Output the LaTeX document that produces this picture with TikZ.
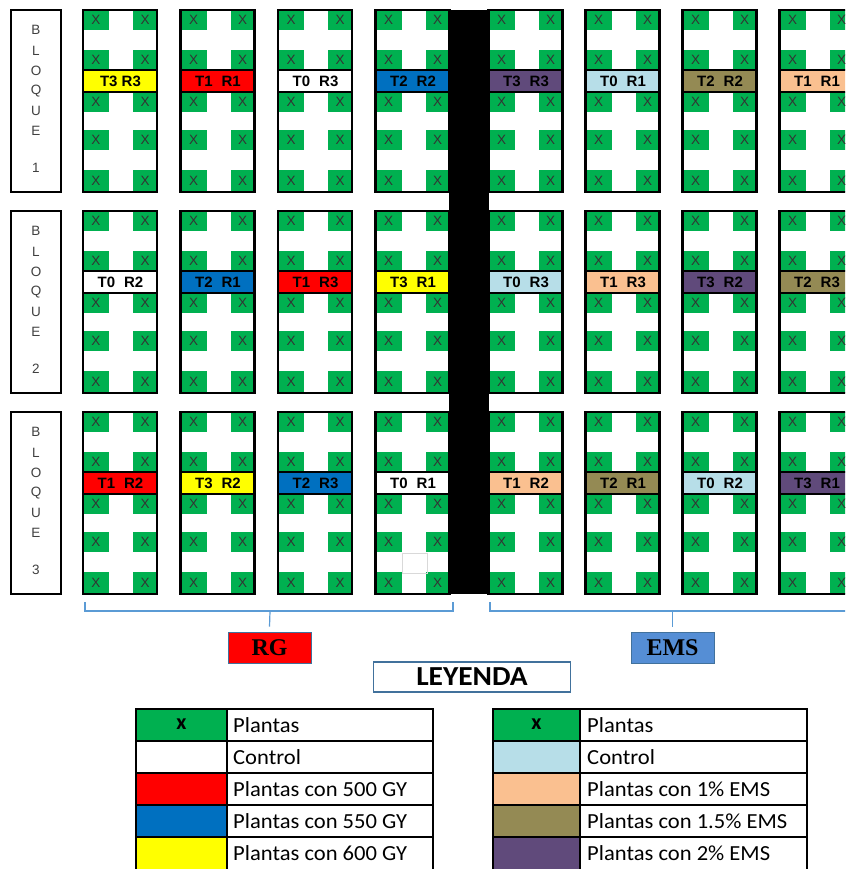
\documentclass[tikz,border=0pt]{standalone}
\usepackage{fontspec}
\setmainfont{Liberation Sans}
\newfontfamily\calib{Carlito}
\newfontfamily\serifb{Liberation Serif}
\definecolor{gr}{HTML}{00B050}
\definecolor{rd}{HTML}{FF0000}
\definecolor{bl}{HTML}{0070C0}
\definecolor{ye}{HTML}{FFFF00}
\definecolor{lb}{HTML}{B7DEE8}
\definecolor{pe}{HTML}{FAC090}
\definecolor{ol}{HTML}{948A54}
\definecolor{pu}{HTML}{604A7B}
\definecolor{brk}{HTML}{5B9BD5}
\definecolor{bd}{HTML}{41719C}
\definecolor{emsc}{HTML}{558ED5}
\tikzset{
  xmark/.style={inner sep=0pt, text=black!80, font=\fontsize{13.5}{14}\selectfont},
  lab/.style={inner sep=0pt, font=\bfseries\fontsize{15}{16}\selectfont},
  blq/.style={inner sep=0pt, text=black!75, font=\fontsize{13.5}{14}\selectfont},
  frame/.style={draw=black, line width=2.5pt},
  brace/.style={draw=brk, line width=1.2pt},
  legtxt/.style={inner sep=0pt, anchor=west, xscale=1.05, font=\calib\fontsize{21.5}{23}\selectfont},
  grp/.style={draw=bd, line width=0.8pt, minimum width=83pt, minimum height=31pt, inner sep=0pt,
      font=\serifb\bfseries\fontsize{24}{26}\selectfont},
}
\newcommand\plotcell[5]{%
\begin{scope}[shift={(#1,#2)}]
  \foreach \yy/\hh [count=\k] in {0/20,40/20,82/20,120/20,160/22} {
    \fill[gr] (0,\yy) rectangle (26,\yy+\hh);
    \fill[gr] (50,\yy) rectangle (74,\yy+\hh);
    \node[xmark] (#5-l\k) at (13,\yy+\hh/2) {X};
    \node[xmark] (#5-r\k) at (62,\yy+\hh/2) {X};
  }
  \fill[#3] (0,60) rectangle (74,82);
  \draw[line width=2pt] (0,60) -- (74,60) (0,82) -- (74,82);
  \node[lab] (#5) at (37.5,71.5) {#4};
  \draw[frame] (0,0) rectangle (74,182);
\end{scope}}
\newcommand\lb[2]{#1\hspace{9pt}#2}
\newcommand\bloque[3]{%
  \draw[frame] (11,#1) rectangle (61,#1+182);
  \foreach \c/\o [count=\k] in {B/20,L/41,O/61,Q/81,U/101,E/121,#2/158}
    \node[blq] (#3-\k) at (36,#1+\o) {\c};}
\begin{document}
\begin{tikzpicture}[x=1pt,y=-1pt]
\clip (0,0) rectangle (845,869);
\fill[white] (0,0) rectangle (845,869);
% central black bar
\fill[black] (449,10) rectangle (488.5,594);
% bloque boxes
\bloque{10}{1}{bq1}
\bloque{211}{2}{bq2}
\bloque{412}{3}{bq3}
% block 1
\plotcell{83}{10}{ye}{T3 R3}{a1}
\plotcell{180.5}{10}{rd}{\lb{T1}{R1}}{a2}
\plotcell{278}{10}{white}{\lb{T0}{R3}}{a3}
\plotcell{375.5}{10}{bl}{\lb{T2}{R2}}{a4}
\plotcell{488.5}{10}{pu}{\lb{T3}{R3}}{a5}
\plotcell{585.5}{10}{lb}{\lb{T0}{R1}}{a6}
\plotcell{682.5}{10}{ol}{\lb{T2}{R2}}{a7}
\plotcell{779.5}{10}{pe}{\lb{T1}{R1}}{a8}
% block 2
\plotcell{83}{211}{white}{\lb{T0}{R2}}{b1}
\plotcell{180.5}{211}{bl}{\lb{T2}{R1}}{b2}
\plotcell{278}{211}{rd}{\lb{T1}{R3}}{b3}
\plotcell{375.5}{211}{ye}{\lb{T3}{R1}}{b4}
\plotcell{488.5}{211}{lb}{\lb{T0}{R3}}{b5}
\plotcell{585.5}{211}{pe}{\lb{T1}{R3}}{b6}
\plotcell{682.5}{211}{pu}{\lb{T3}{R2}}{b7}
\plotcell{779.5}{211}{ol}{\lb{T2}{R3}}{b8}
% block 3
\plotcell{83}{412}{rd}{\lb{T1}{R2}}{c1}
\plotcell{180.5}{412}{ye}{\lb{T3}{R2}}{c2}
\plotcell{278}{412}{bl}{\lb{T2}{R3}}{c3}
\plotcell{375.5}{412}{white}{\lb{T0}{R1}}{c4}
\plotcell{488.5}{412}{pe}{\lb{T1}{R2}}{c5}
\plotcell{585.5}{412}{ol}{\lb{T2}{R1}}{c6}
\plotcell{682.5}{412}{lb}{\lb{T0}{R2}}{c7}
\plotcell{779.5}{412}{pu}{\lb{T3}{R1}}{c8}
% faint grid in c4
\draw[black!15, line width=0.8pt] (402,553) rectangle (427,573);
% braces and group labels
\node[grp, fill=rd] (rg) at (269.5,647.5) {RG};
\node[grp, fill=emsc] (ems) at (672.5,647.5) {EMS};
\coordinate (rgL) at (85,602); \coordinate (rgR) at (453,602);
\coordinate (emL) at (490,602); \coordinate (emR) at (860,602);
\draw[brace] (rgL) -- (85,611) -- (453,611) -- (rgR);
\draw[brace] (270,611) -- ([yshift=5pt]rg.north);
\draw[brace] (emL) -- (490,611) -- (emR |- 0,611);
\draw[brace] (ems.north |- 0,611) -- ([yshift=5pt]ems.north);
\node[draw=bd, fill=white, line width=1.6pt, minimum width=197pt, minimum height=30pt, inner sep=0pt] (ley) at (472,677) {};
\node[inner sep=0pt, xscale=1.07, font=\calib\bfseries\fontsize{27.5}{28}\selectfont] (leyt) at (ley.center) {LEYENDA};
% legend left
\fill[gr] (136,709) rectangle (227,741);
\fill[rd] (136,773) rectangle (227,805);
\fill[bl] (136,805) rectangle (227,837);
\fill[ye] (136,837) rectangle (227,871);
\draw[line width=2.5pt] (136,709) rectangle (433,873);
\foreach \yy in {741,773,805,837} \draw[line width=2.5pt] (136,\yy) -- (433,\yy);
\draw[line width=2.5pt] (227,709) -- (227,873);
\node[inner sep=0pt, font=\calib\bfseries\fontsize{22}{22}\selectfont] (lx1) at (181.5,724) {x};
\node[legtxt] (lt1) at (233,725.5) {Plantas};
\node[legtxt] (lt2) at (233,757.5) {Control};
\node[legtxt] (lt3) at (233,789.5) {Plantas con 500 GY};
\node[legtxt] (lt4) at (233,821.5) {Plantas con 550 GY};
\node[legtxt] (lt5) at (233,853.5) {Plantas con 600 GY};
% legend right
\fill[gr] (493,709) rectangle (580,741);
\fill[lb] (493,741) rectangle (580,773);
\fill[pe] (493,773) rectangle (580,805);
\fill[ol] (493,805) rectangle (580,837);
\fill[pu] (493,837) rectangle (580,871);
\draw[line width=2.5pt] (493,709) rectangle (807,873);
\foreach \yy in {741,773,805,837} \draw[line width=2.5pt] (493,\yy) -- (807,\yy);
\draw[line width=2.5pt] (580,709) -- (580,873);
\node[inner sep=0pt, font=\calib\bfseries\fontsize{22}{22}\selectfont] (rx1) at (536.5,724) {x};
\node[legtxt] (rt1) at (587,725.5) {Plantas};
\node[legtxt] (rt2) at (587,757.5) {Control};
\node[legtxt] (rt3) at (587,789.5) {Plantas con 1\% EMS};
\node[legtxt] (rt4) at (587,821.5) {Plantas con 1.5\% EMS};
\node[legtxt] (rt5) at (587,853.5) {Plantas con 2\% EMS};
\end{tikzpicture}
\end{document}
